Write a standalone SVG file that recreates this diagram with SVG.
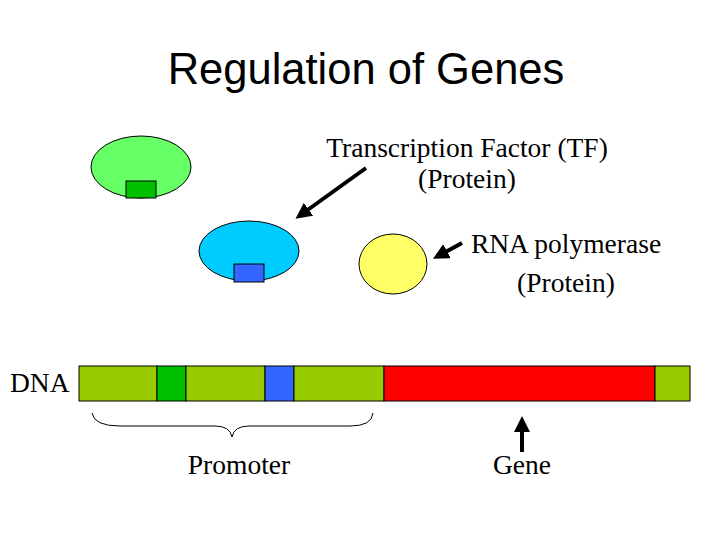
<svg xmlns="http://www.w3.org/2000/svg" width="720" height="540" viewBox="0 0 720 540">
<style>
.s{font-family:"Liberation Serif",serif;font-size:27.5px;fill:#000}
.o{stroke:#000;stroke-width:1}
.a{stroke:#000;stroke-width:4;fill:none}
</style>
<defs><marker id="h" markerWidth="4" markerHeight="4" refX="2" refY="2" orient="auto" markerUnits="strokeWidth"><path d="M0,0L4,2L0,4z" fill="#000"/></marker></defs>
<rect width="720" height="540" fill="#fff"/>
<text x="366" y="84" text-anchor="middle" font-family="Liberation Sans,sans-serif" font-size="43.5">Regulation of Genes</text>
<g id="tf1"><ellipse cx="141" cy="167" rx="50" ry="31" fill="#66ff66" class="o"/><rect x="126" y="181" width="30" height="17" fill="#00c000" class="o"/></g>
<g id="tf2"><ellipse cx="249" cy="251" rx="50" ry="30" fill="#00ccff" class="o"/><rect x="234" y="264" width="30" height="18" fill="#3366ff" class="o"/></g>
<g id="rnap"><ellipse cx="393" cy="264" rx="34" ry="30" fill="#ffff66" class="o"/></g>
<g id="dna">
<rect x="79" y="366" width="78" height="35" fill="#99cc00" class="o"/>
<rect x="157" y="366" width="29" height="35" fill="#00c000" class="o"/>
<rect x="186" y="366" width="79" height="35" fill="#99cc00" class="o"/>
<rect x="265" y="366" width="29" height="35" fill="#3366ff" class="o"/>
<rect x="294" y="366" width="90" height="35" fill="#99cc00" class="o"/>
<rect x="384" y="366" width="271" height="35" fill="#ff0000" class="o"/>
<rect x="655" y="366" width="35" height="35" fill="#99cc00" class="o"/>
</g>
<g id="labels">
<text class="s" x="467" y="157" text-anchor="middle">Transcription Factor (TF)</text>
<text class="s" x="467" y="188" text-anchor="middle">(Protein)</text>
<text class="s" x="566" y="253" text-anchor="middle">RNA polymerase</text>
<text class="s" x="566" y="292" text-anchor="middle">(Protein)</text>
<text class="s" x="10" y="392">DNA</text>
<text class="s" x="239" y="474" text-anchor="middle">Promoter</text>
<text class="s" x="522" y="474" text-anchor="middle">Gene</text>
</g>
<g id="connectors">
<path class="a" d="M366,168L302,214" marker-end="url(#h)"/>
<path class="a" d="M462,243L440,255" marker-end="url(#h)"/>
<path class="a" d="M522,452L522,424" marker-end="url(#h)"/>
<path d="M92,413Q94,426 120,426L215,426Q230,426 232,437Q234,426 249,426L350,426Q372,426 373,413" fill="none" stroke="#000" stroke-width="1"/>
</g>
</svg>
